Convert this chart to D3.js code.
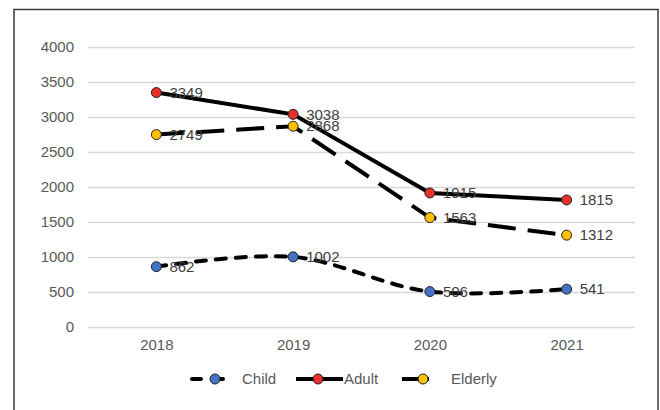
<!DOCTYPE html>
<html>
<head>
<meta charset="utf-8">
<script src="https://cdn.jsdelivr.net/npm/d3@7"></script>
<style>
  body { margin: 0; background: #fff; }
  svg { display: block; font-family: "Liberation Sans", Arial, sans-serif; }
</style>
</head>
<body>
<div id="chart"></div>
<script>
const years = ["2018", "2019", "2020", "2021"];
const child = [862, 1002, 506, 541];
const adult = [3349, 3038, 1915, 1815];
const elderly = [2749, 2868, 1563, 1312];
const yTicks = [0, 500, 1000, 1500, 2000, 2500, 3000, 3500, 4000];

const width = 660, height = 410;
const plot = { left: 88, right: 635, top: 47, bottom: 327 };

const svg = d3.select("#chart").append("svg")
    .attr("width", width)
    .attr("height", height);

// 外框
svg.append("rect")
    .attr("x", 14).attr("y", 9.5)
    .attr("width", 644).attr("height", 420)
    .attr("fill", "none")
    .attr("stroke", "#3a3a3a")
    .attr("stroke-width", 1.5);

const x = d3.scalePoint().domain(years).range([plot.left, plot.right]).padding(0.5);
const y = d3.scaleLinear().domain([0, 4000]).range([plot.bottom, plot.top]);

// 网格线和Y轴
const yAxis = svg.append("g")
    .attr("transform", `translate(${plot.left},0)`)
    .call(d3.axisLeft(y).tickValues(yTicks).tickFormat(d3.format("d"))
        .tickSize(-(plot.right - plot.left)).tickPadding(14));
yAxis.select(".domain").remove();
yAxis.selectAll(".tick line").attr("stroke", "#d9d9d9").attr("stroke-width", 1.3);
yAxis.selectAll(".tick text").attr("fill", "#595959").attr("font-size", 15);

// X轴
const xAxis = svg.append("g")
    .attr("transform", `translate(0,${plot.bottom})`)
    .call(d3.axisBottom(x).tickSize(0).tickPadding(12));
xAxis.select(".domain").remove();
xAxis.selectAll(".tick text").attr("fill", "#595959").attr("font-size", 15);

const series = [
    { name: "Child", values: child, color: "#4472c4", dash: "10,10", cap: "round", curve: d3.curveCatmullRom },
    { name: "Adult", values: adult, color: "#e8302a", dash: null, cap: "butt", curve: d3.curveLinear },
    { name: "Elderly", values: elderly, color: "#ffc000", dash: "28,12", cap: "butt", curve: d3.curveLinear }
];

series.forEach(s => {
    const line = d3.line()
        .x((d, i) => x(years[i]))
        .y(d => y(d))
        .curve(s.curve);

    svg.append("path")
        .datum(s.values)
        .attr("d", line)
        .attr("fill", "none")
        .attr("stroke", "#000")
        .attr("stroke-width", 4)
        .attr("stroke-linecap", s.cap)
        .attr("stroke-dasharray", s.dash);
});

series.forEach(s => {
    svg.append("g")
        .selectAll("circle")
        .data(s.values)
        .enter()
        .append("circle")
        .attr("cx", (d, i) => x(years[i]))
        .attr("cy", d => y(d))
        .attr("r", 5)
        .attr("fill", s.color)
        .attr("stroke", "#222")
        .attr("stroke-width", 1);

    svg.append("g")
        .selectAll("text")
        .data(s.values)
        .enter()
        .append("text")
        .attr("x", (d, i) => x(years[i]) + 13)
        .attr("y", d => y(d))
        .attr("dy", "0.35em")
        .attr("fill", "#404040")
        .attr("font-size", 15)
        .text(d => d);
});

// 图例
const legendY = 379;
const legendItems = [
    { s: series[0], x1: 192, x2: 234, mx: 215, tx: 242 },
    { s: series[1], x1: 296, x2: 343, mx: 318, tx: 344 },
    { s: series[2], x1: 402, x2: 429, mx: 423, tx: 451 }
];
legendItems.forEach(it => {
    svg.append("line")
        .attr("x1", it.x1).attr("x2", it.x2)
        .attr("y1", legendY).attr("y2", legendY)
        .attr("stroke", "#000")
        .attr("stroke-width", 4)
        .attr("stroke-linecap", it.s.cap)
        .attr("stroke-dasharray", it.s.name === "Child" ? "9,13" : null);
    svg.append("circle")
        .attr("cx", it.mx).attr("cy", legendY)
        .attr("r", 5)
        .attr("fill", it.s.color)
        .attr("stroke", "#222");
    svg.append("text")
        .attr("x", it.tx).attr("y", legendY)
        .attr("dy", "0.35em")
        .attr("fill", "#595959")
        .attr("font-size", 15)
        .text(it.s.name);
});
</script>
</body>
</html>
